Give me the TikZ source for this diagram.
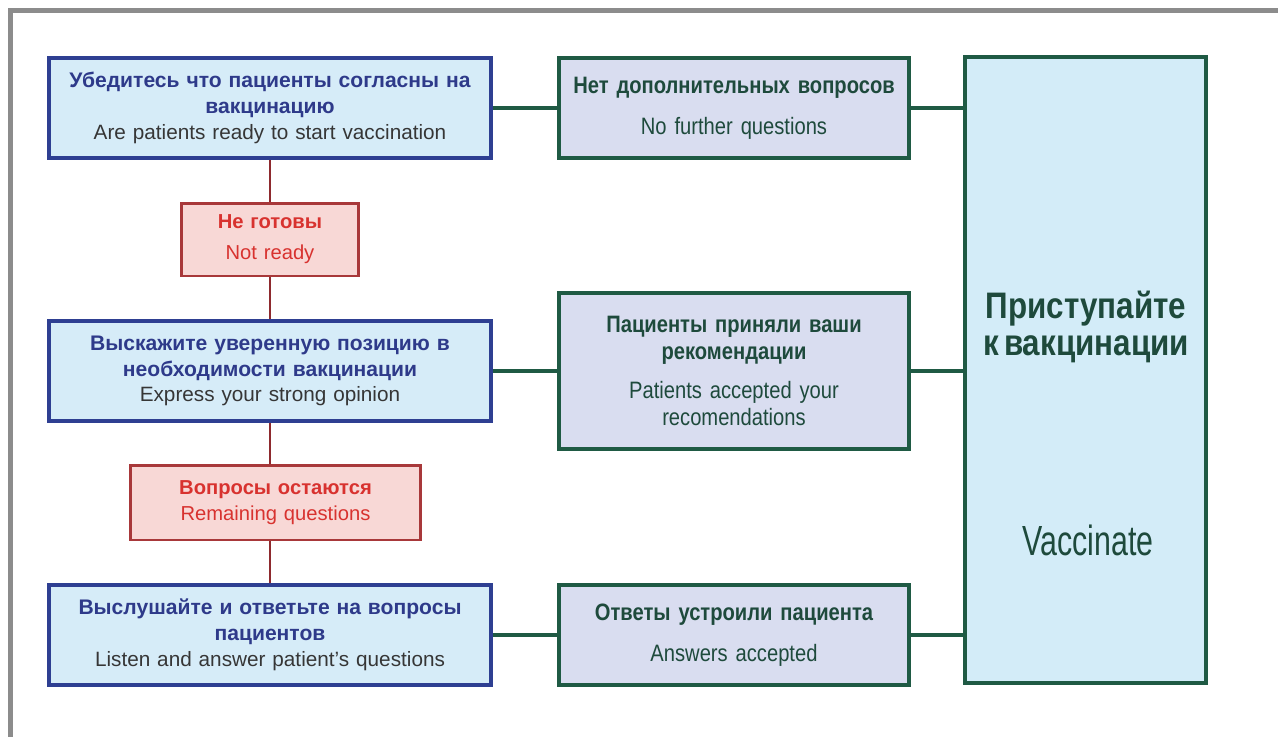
\documentclass[tikz,border=0pt]{standalone}
\usepackage{fontspec}
\setmainfont{Liberation Sans}
\newfontfamily\condsf{Liberation Sans}[FakeStretch=0.85,WordSpace=0.6]
\newfontfamily\vcondsf{Liberation Sans}[FakeStretch=0.72]

\definecolor{framegray}{HTML}{8C8C8C}
\definecolor{bluefill}{HTML}{D6ECF8}
\definecolor{blueline}{HTML}{2E3F92}
\definecolor{bluetxt}{HTML}{2E3A8A}
\definecolor{greytxt}{HTML}{363636}
\definecolor{redfill}{HTML}{F8D8D6}
\definecolor{redline}{HTML}{A8383A}
\definecolor{redtxt}{HTML}{D8322F}
\definecolor{redconn}{HTML}{8E2A2E}
\definecolor{lavfill}{HTML}{D9DDF0}
\definecolor{greenline}{HTML}{1F5A44}
\definecolor{greentxt}{HTML}{1E4A3C}
\definecolor{bigfill}{HTML}{D3ECF8}

\begin{document}
\begin{tikzpicture}[x=0.02cm,y=-0.02cm,
  askbox/.style={draw=blueline,fill=bluefill,line width=1.9pt,inner sep=0pt,
    text width=8.84cm,minimum height=2cm,align=center,text=greytxt,
    font=\fontsize{11.8}{14.7}\selectfont},
  notbox/.style={draw=redline,fill=redfill,line width=1.7pt,inner sep=0pt,
    align=center,text=redtxt,font=\fontsize{11.5}{14.7}\selectfont},
  okbox/.style={draw=greenline,fill=lavfill,line width=1.9pt,inner sep=0pt,
    text width=7cm,minimum height=2cm,align=center,text=greentxt,
    font=\condsf\fontsize{13.5}{15.3}\selectfont},
  okline/.style={draw=greenline,line width=1.9pt},
  notline/.style={draw=redconn,line width=1.7pt}]
\useasboundingbox (0,0) rectangle (1278,737);
\fill[white] (0,0) rectangle (1278,737);
% frame
\fill[framegray] (8,8) rectangle (1278,13);
\fill[framegray] (8,8) rectangle (13,737);

% left column
\node[askbox] (ask) at (270,108)
  {{\bfseries\fontsize{12}{14.7}\selectfont\color{bluetxt}Убедитесь что пациенты согласны на\\ вакцинацию}\\
   Are patients ready to start vaccination};
\node[notbox,text width=3.56cm,minimum height=1.46cm] (notready) at (270,239.5)
  {{\bfseries Не готовы}\\[3pt] Not ready};
\node[askbox] (opinion) at (270,371)
  {{\bfseries\fontsize{12}{14.7}\selectfont\color{bluetxt}Выскажите уверенную позицию в\\ необходимости вакцинации}\\
   Express your strong opinion};
\node[notbox,text width=5.82cm,minimum height=1.5cm] (remain) at (275.5,502.5)
  {{\bfseries Вопросы остаются}\\ Remaining questions};
\node[askbox] (listen) at (270,635)
  {{\bfseries\fontsize{12}{14.7}\selectfont\color{bluetxt}Выслушайте и ответьте на вопросы\\ пациентов}\\
   Listen and answer patient’s questions};

% middle column
\node[okbox] (nomore) at (734,108)
  {{\bfseries Нет дополнительных вопросов}\\[8pt] No further questions};
\node[okbox,minimum height=3.12cm] (accepted) at (734,371)
  {{\bfseries Пациенты приняли ваши\\ рекомендации}\\[7pt] Patients accepted your\\ recomendations};
\node[okbox] (answers) at (734,635)
  {{\bfseries Ответы устроили пациента}\\[8pt] Answers accepted};

% right column
\node[draw=greenline,fill=bigfill,line width=1.9pt,inner sep=0pt,
  minimum width=4.82cm,minimum height=12.52cm] (vacc) at (1085.5,370) {};
\node[text=greentxt,align=center,font=\condsf\bfseries\fontsize{21}{21.5}\selectfont]
  (vacctitle) at (1086,327) {Приступайте\\ к вакцинации};
\node[text=greentxt,font=\vcondsf\fontsize{24}{26}\selectfont]
  (vaccsub) at (1088,540) {Vaccinate};

% connectors
\draw[notline] (ask.south) -- (notready.north);
\draw[notline] (notready.south) -- (opinion.north);
\draw[notline] (opinion.south) -- (opinion.south |- remain.north);
\draw[notline] (listen.north |- remain.south) -- (listen.north);
\draw[okline] (ask.east) -- (nomore.west);
\draw[okline] (opinion.east) -- (accepted.west);
\draw[okline] (listen.east) -- (answers.west);
\draw[okline] (nomore.east) -- (nomore.east -| vacc.west);
\draw[okline] (accepted.east) -- (accepted.east -| vacc.west);
\draw[okline] (answers.east) -- (answers.east -| vacc.west);
\end{tikzpicture}
\end{document}
